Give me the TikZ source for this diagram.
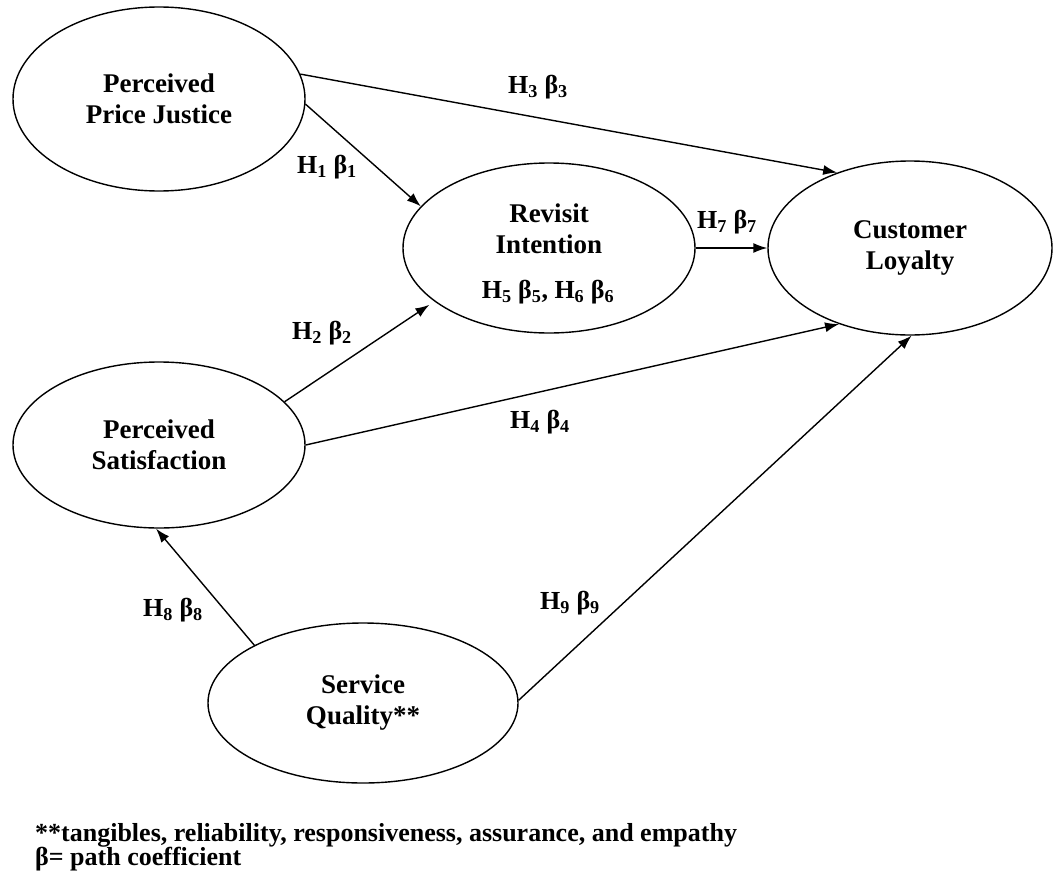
\documentclass[tikz,border=0pt]{standalone}
\usepackage{fontspec}
\setmainfont{Liberation Serif}
\usetikzlibrary{shapes.geometric,arrows.meta}
\newcommand{\hb}[1]{H\textsubscript{#1} β\textsubscript{#1}}
\begin{document}
\begin{tikzpicture}[x=1pt,y=-1pt,
  construct/.style={draw, line width=1.4pt, ellipse, inner sep=0pt, align=center,
     font=\fontsize{27}{31}\selectfont\bfseries},
  lbl/.style={inner sep=0pt, font=\fontsize{26}{31}\selectfont\bfseries},
  path/.style={line width=1.4pt, -{Latex[length=14pt,width=10pt]}},
  note/.style={inner sep=0pt, anchor=west, font=\fontsize{26}{28}\selectfont\bfseries}]
\useasboundingbox (0,0) rectangle (1054,878);
\fill[white] (0,0) rectangle (1054,878);

\node[construct, minimum width=292pt, minimum height=184pt] (ppj) at (159,99) {Perceived\\Price Justice};
\node[construct, minimum width=292pt, minimum height=170pt] (ri) at (549,248) {};
\node[lbl, align=center, font=\fontsize{27}{31}\selectfont\bfseries] (rit) at (549,229) {Revisit\\Intention};
\node[lbl] (h56) at (548,292) {H\textsubscript{5} β\textsubscript{5}, H\textsubscript{6} β\textsubscript{6}};
\node[construct, minimum width=284pt, minimum height=174pt] (cl) at (910,248) {Customer\\Loyalty};
\node[construct, minimum width=292pt, minimum height=166pt] (ps) at (159,445) {Perceived\\Satisfaction};
\node[construct, minimum width=310pt, minimum height=160pt] (sq) at (363,703) {Service\\Quality**};

\draw[path] (ppj.10) -- (cl.134);
\draw[path] (ppj.-2) -- (ri.162);
\draw[path, shorten >=6pt] (ps.19) -- (ri.205.7);
\draw[path] (ps.0) -- (cl.227);
\draw[path] (ri.east) -- (cl.west);
\draw[path] (sq.152) -- (ps.268);
\draw[path] (sq.1) -- (cl.-89);

\node[lbl] (l3) at (538,87) {\hb{3}};
\node[lbl] (l1) at (327,167) {\hb{1}};
\node[lbl] (l7) at (727,222) {\hb{7}};
\node[lbl] (l2) at (322,333) {\hb{2}};
\node[lbl] (l4) at (540,422) {\hb{4}};
\node[lbl] (l8) at (173,610) {\hb{8}};
\node[lbl] (l9) at (570,603) {\hb{9}};

\node[note] (n1) at (35,835) {**tangibles, reliability, responsiveness, assurance, and empathy};
\node[note] (n2) at (35,859) {β= path coefficient};
\end{tikzpicture}
\end{document}
